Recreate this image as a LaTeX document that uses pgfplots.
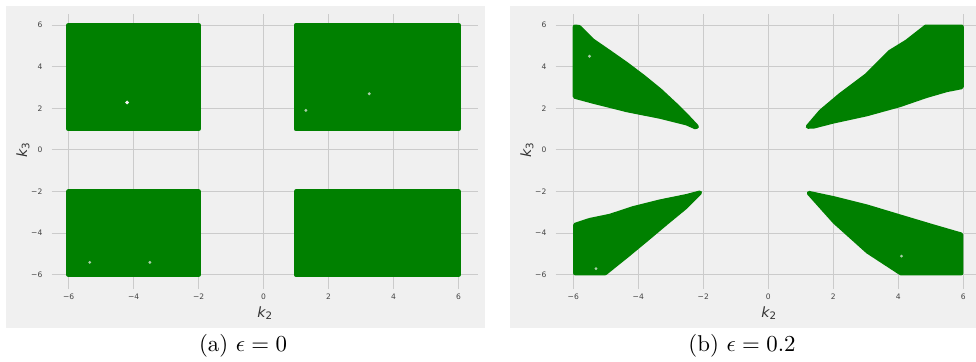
\documentclass[border=0pt]{standalone}
\usepackage{pgfplots}
\pgfplotsset{compat=1.18}
\usepackage{fontspec}
\newfontfamily\dejavu{DejaVu Sans}

\definecolor{panelbg}{HTML}{F0F0F0}
\definecolor{gridc}{HTML}{CBCBCB}
\definecolor{kgreen}{HTML}{008000}
\definecolor{tickc}{HTML}{444444}
\definecolor{labelc}{HTML}{333333}

% one pixel of the layout grid
\def\px{0.4375pt}

% axis variable k with a numeric subscript
\newcommand\kvar[1]{{\dejavu\fontsize{6.2}{7}\selectfont\itshape k\raisebox{-1.0pt}{\fontsize{4.5}{5}\selectfont\upshape #1}}}

\pgfplotsset{
  panel/.style={
    scale only axis,
    width=186.4pt, height=120.4pt,
    anchor=north west,
    axis line style={draw=none},
    major tick length=0pt,
    tick style={draw=none},
    xmajorgrids, ymajorgrids,
    grid style={gridc, line width=0.45pt},
    ymin=-6.69, ymax=6.53,
    xtick={-6,-4,-2,0,2,4,6},
    ytick={-6,-4,-2,0,2,4,6},
    xticklabels={−6,−4,−2,0,2,4,6},
    yticklabels={−6,−4,−2,0,2,4,6},
    tick label style={font=\dejavu\fontsize{3.3}{4}\selectfont, text=tickc, inner sep=0pt},
    yticklabel style={xshift=-3.9pt},
    xticklabel style={yshift=-1.7pt},
    xlabel={\kvar{2}},
    ylabel={\kvar{3}},
    xlabel style={at={(axis description cs:0.5,0)}, anchor=center, yshift=-10.4pt, text=labelc, inner sep=0pt},
    % the label is rotated, so a shift along its own y moves it left
    ylabel style={at={(axis description cs:0,0.506)}, anchor=center, yshift=12.6pt, text=labelc, inner sep=0pt},
  },
  region/.style={fill=kgreen, draw=kgreen, line width=1.9pt, line join=round},
  speck/.style={only marks, mark=*, mark size=0.4pt, color=panelbg!70!kgreen, draw=none},
}

\begin{document}
\begin{tikzpicture}
\useasboundingbox (0,0) rectangle (976*\px,-362*\px);
\clip (0,0) rectangle (976*\px,-362*\px);

% panel backgrounds
\fill[panelbg] (6*\px,-6*\px) rectangle (485*\px,-328*\px);
\fill[panelbg] (510*\px,-6*\px) rectangle (990*\px,-328*\px);

% (a) epsilon = 0
\begin{axis}[panel, at={(51.7*\px,-14*\px)}, xmin=-6.52, xmax=6.59]
\addplot[region] coordinates {(-6,1) (-2,1) (-2,6) (-6,6)} -- cycle;
\addplot[region] coordinates {(1,1) (6,1) (6,6) (1,6)} -- cycle;
\addplot[region] coordinates {(-6,-6) (-2,-6) (-2,-2) (-6,-2)} -- cycle;
\addplot[region] coordinates {(1,-6) (6,-6) (6,-2) (1,-2)} -- cycle;
\addplot[only marks, mark=*, mark size=0.6pt, color=panelbg, draw=none] coordinates {(-4.2,2.28)};
\addplot[speck] coordinates {(1.3,1.9) (3.25,2.7) (-5.35,-5.4) (-3.5,-5.4)};
\end{axis}

% (b) epsilon = 0.2
\begin{axis}[panel, at={(555.7*\px,-14*\px)}, xmin=-6.54, xmax=6.57]
\addplot[region] coordinates {
  (-5.95,5.92) (-5.82,5.9) (-5.4,5.25) (-4.87,4.68) (-4.36,4.12) (-3.85,3.52)
  (-3.33,2.86) (-2.82,2.12) (-2.5,1.62) (-2.2,1.12) (-2.25,1.1) (-2.51,1.28)
  (-3.33,1.6) (-4.36,1.92) (-5.38,2.32) (-5.95,2.56)} -- cycle;
\addplot[region] coordinates {
  (1.22,1.12) (1.62,1.85) (2.22,2.64) (3.04,3.6) (3.74,4.7) (4.26,5.2)
  (4.85,5.92) (5.95,5.92) (5.95,3.02) (5.49,2.88) (4.87,2.6) (4.05,2.16)
  (3.03,1.72) (2.0,1.37) (1.4,1.13)} -- cycle;
\addplot[region] coordinates {
  (-2.1,-2.05) (-2.51,-2.22) (-3.33,-2.48) (-4.15,-2.8) (-4.87,-3.17)
  (-5.49,-3.37) (-5.94,-3.6) (-5.94,-5.92) (-5.02,-5.92) (-4.38,-5.12)
  (-3.76,-4.32) (-3.15,-3.52) (-2.55,-2.75) (-2.15,-2.12)} -- cycle;
\addplot[region] coordinates {
  (1.25,-2.07) (2.0,-2.32) (3.03,-2.72) (4.05,-3.2) (5.08,-3.68)
  (5.94,-4.07) (5.94,-5.92) (4.08,-5.92) (3.06,-4.88) (2.04,-3.45)
  (1.45,-2.42)} -- cycle;
\addplot[speck] coordinates {(-5.5,4.5) (4.1,-5.1) (-5.3,-5.7)};
\end{axis}

% captions
\node[anchor=base] at (243*\px,-351*\px) {(a) $\epsilon = 0$};
\node[anchor=base] at (742*\px,-351*\px) {(b) $\epsilon = 0.2$};
\end{tikzpicture}
\end{document}
